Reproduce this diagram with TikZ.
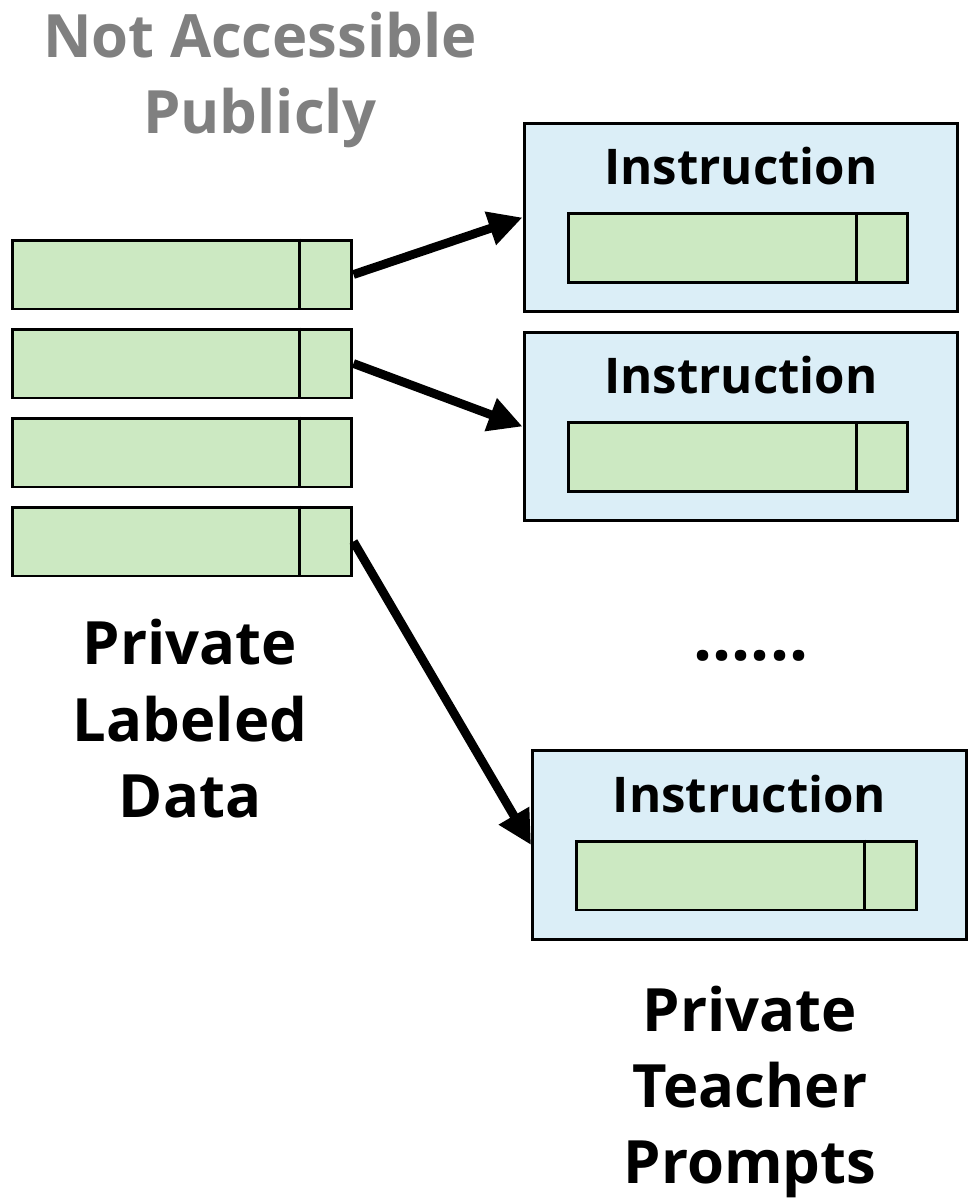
\documentclass[tikz,border=0pt]{standalone}
\definecolor{BarGreen}{RGB}{204,233,194}
\definecolor{BoxBlue}{RGB}{219,238,247}
\definecolor{NoteGray}{RGB}{128,128,128}
\usepackage{fontspec}
\setmainfont{Open Sans}
\usepackage{tikz}
\usetikzlibrary{arrows.meta,positioning}

\begin{document}
\begin{tikzpicture}[
    x=0.02cm, y=-0.02cm,
    databar/.style={rectangle, draw=black, line width=1.7pt, fill=BarGreen,
                    minimum width=6.8cm, minimum height=1.38cm, inner sep=0pt},
    promptbox/.style={rectangle, draw=black, line width=1.7pt, fill=BoxBlue,
                      minimum width=8.68cm, minimum height=3.78cm, inner sep=0pt},
    divline/.style={draw=black, line width=1.7pt},
    title/.style={font=\bfseries\fontsize{28}{34}\selectfont},
    label/.style={font=\bfseries\fontsize{34}{43.5}\selectfont, align=center},
    arrow/.style={-{Triangle[length=0.68cm, width=0.66cm]}, line width=5pt}
]
\useasboundingbox (0,0) rectangle (968,1198);

% private labeled data
\foreach \i/\y in {1/274.5, 2/363.5, 3/452.5, 4/541.5} {
  \node[databar] (d\i) at (182,\y) {};
  \draw[divline] ([xshift=-1.08cm]d\i.north east) -- ([xshift=-1.08cm]d\i.south east);
}

\node[label, text=NoteGray] (note) at (260,80) {Not Accessible\\Publicly};
\node[label] (data) at (190,719) {Private\\Labeled\\Data};

% teacher prompts
\node[promptbox] (p1) at (741,217.5) {};
\node[promptbox] (p2) at (741,426.5) {};
\node[promptbox] (p3) at (749.5,845) {};

\foreach \p in {1,2,3} {
  \node[title] (t\p) at ([yshift=-0.9cm]p\p.north) {Instruction};
  \node[databar] (b\p) at ([xshift=-0.06cm, yshift=1.31cm]p\p.south) {};
  \draw[divline] ([xshift=-1.06cm]b\p.north east) -- ([xshift=-1.06cm]b\p.south east);
}

\node[title, font=\bfseries\fontsize{38}{40}\selectfont, anchor=base] (dots) at (751,660) {......};
\node[label] (prompts) at (750,1092) {Private\\Teacher\\Prompts};

\draw[arrow] (d1.east) -- (p1.west);
\draw[arrow] (d2.east) -- (p2.west);
\draw[arrow] (d4.east) -- (p3.west);

\end{tikzpicture}
\end{document}
